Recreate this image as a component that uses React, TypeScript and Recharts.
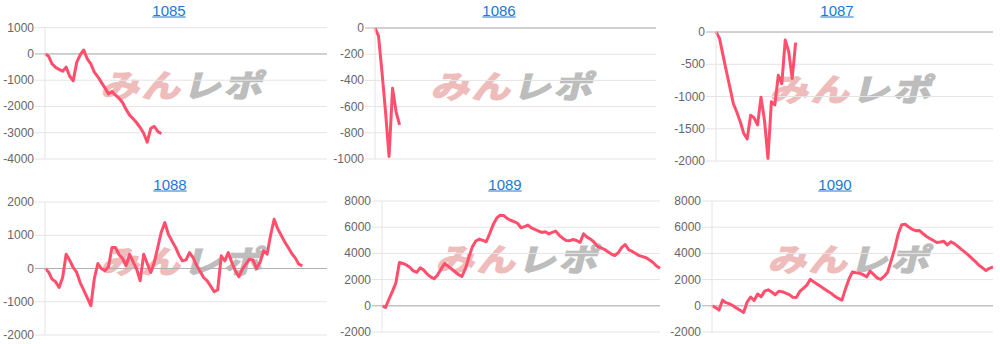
import { LineChart, Line, XAxis, YAxis, CartesianGrid, ReferenceLine } from "recharts";

// x positions are sample indexes; every panel shares the same 0..80 range
const STEPS = 80;

const titles = ["1085", "1086", "1087", "1088", "1089", "1090"];

const diff1085 = [0, -80, -380, -510, -590, -660, -500, -850, -1020, -320, -30, 150, -190, -380, -690, -870, -1080, -1290, -1520, -1430, -1570, -1685, -1850, -2110, -2330, -2470, -2620, -2800, -3020, -3360, -2830, -2760, -2950, -3040];
const diff1086 = [0, -60, -340, -640, -980, -460, -640, -740];
const diff1087 = [0, -95, -355, -608, -855, -1108, -1240, -1390, -1570, -1660, -1290, -1330, -1440, -1010, -1370, -1960, -1080, -1130, -670, -800, -125, -305, -720, -165];
const diff1088 = [0, -100, -320, -400, -570, -270, 430, 250, 30, -120, -430, -650, -880, -1120, -300, 150, 0, -70, 50, 630, 630, 420, 300, 80, 430, 200, -20, -370, 430, 150, -120, 180, 640, 1100, 1380, 1030, 830, 650, 400, 230, 260, 480, 330, 100, -80, -270, -370, -530, -700, -640, 380, 230, 480, 180, -70, -250, -20, 130, 280, 260, 0, 180, 530, 430, 1000, 1480, 1200, 1000, 800, 630, 450, 320, 130, 80];
const diff1089 = [0, -130, 500, 1100, 1750, 3310, 3230, 3120, 2950, 2660, 2560, 2900, 2730, 2420, 2210, 2060, 2360, 2800, 3230, 3030, 2820, 2600, 2380, 2250, 2830, 3700, 4500, 4950, 5090, 4990, 4890, 5520, 6200, 6690, 6920, 6900, 6670, 6530, 6430, 6300, 5960, 6040, 6160, 5940, 5830, 5710, 5600, 5650, 5490, 5600, 5700, 5380, 5160, 4980, 4970, 5060, 4990, 4830, 5500, 5240, 5090, 4870, 4540, 4430, 4310, 4120, 3950, 3840, 4050, 4460, 4680, 4280, 4150, 3990, 3830, 3750, 3670, 3500, 3310, 3040, 2870];
const diff1090 = [0, -130, -330, 430, 240, 150, 5, -180, -340, -510, 290, 670, 400, 900, 690, 1120, 1220, 1050, 840, 1110, 1080, 970, 850, 650, 640, 1100, 1330, 1580, 2020, 1820, 1650, 1470, 1290, 1110, 940, 720, 560, 430, 1290, 2050, 2590, 2520, 2480, 2380, 2210, 2650, 2400, 2130, 2010, 2240, 2560, 3440, 4340, 5480, 6190, 6220, 6020, 5840, 5730, 5750, 5520, 5310, 5140, 4990, 4830, 4870, 4920, 4650, 4880, 4750, 4540, 4310, 4100, 3870, 3620, 3380, 3090, 2900, 2690, 2860, 2970];

const ticks1085 = [-4000, -3000, -2000, -1000, 0, 1000];
const ticks1086 = [-1000, -800, -600, -400, -200, 0];
const ticks1087 = [-2000, -1500, -1000, -500, 0];
const ticks1088 = [-2000, -1000, 0, 1000, 2000];
const ticks1089 = [-2000, 0, 2000, 4000, 6000, 8000];
const ticks1090 = [-2000, 0, 2000, 4000, 6000, 8000];

const series = [diff1085, diff1086, diff1087, diff1088, diff1089, diff1090];
const tickSets = [ticks1085, ticks1086, ticks1087, ticks1088, ticks1089, ticks1090];

// page layout of each small chart (absolute page pixels)
const layout = [
  { left: 0, top: 0, width: 333, pl: 45, pr: 327, pt: 27.7, pb: 159, tx: 169, ty: 10 },
  { left: 333, top: 0, width: 333, pl: 375, pr: 656, pt: 28, pb: 159, tx: 499, ty: 10 },
  { left: 666, top: 0, width: 334, pl: 716, pr: 993, pt: 32, pb: 161, tx: 837, ty: 10 },
  { left: 0, top: 172, width: 333, pl: 45, pr: 327, pt: 202, pb: 335, tx: 170, ty: 184 },
  { left: 333, top: 172, width: 333, pl: 382, pr: 660, pt: 201, pb: 332, tx: 505, ty: 184 },
  { left: 666, top: 172, width: 334, pl: 712, pr: 993, pt: 201, pb: 332, tx: 835, ty: 184 },
];

const PANEL_H = 172;
const LINE = "#ff4f6d";
const GRID = "#e4e4e4";
const ZERO = "#b0b0b0";
const FONT = "'Liberation Sans', Arial, Helvetica, sans-serif";

const AxisTick = (props: any) => {
  const { x, y, payload } = props;
  return (
    <g>
      <line x1={x + 1} x2={x + 11} y1={y} y2={y} stroke={payload.value === 0 ? ZERO : GRID} />
      <text x={x} y={y} dy={4} textAnchor="end" fill="#666" fontSize={12} fontFamily={FONT}>
        {payload.value}
      </text>
    </g>
  );
};

const Watermark = ({ x, y }: { x: number; y: number }) => (
  <div
    style={{
      position: "absolute",
      left: x,
      top: y,
      transform: "translate(-50%, -50%) skewX(-14deg) scaleY(0.82)",
      fontFamily: "'Noto Sans CJK JP', sans-serif",
      fontWeight: 700,
      fontSize: 38,
      letterSpacing: 3,
      whiteSpace: "nowrap",
      lineHeight: 1,
    }}
  >
    <span style={{ color: "#efbcbc", WebkitTextStroke: "2px #efbcbc" }}>みん</span>
    <span style={{ color: "#bdbdbd", WebkitTextStroke: "2px #bdbdbd" }}>レポ</span>
  </div>
);

const SmallChart = ({ i }: { i: number }) => {
  const p = layout[i];
  const data = series[i].map((v, k) => ({ x: k, y: v }));
  const ticks = tickSets[i];
  const margin = {
    top: p.pt - p.top,
    right: p.left + p.width - p.pr,
    bottom: p.top + PANEL_H - p.pb,
    left: 0,
  };
  return (
    <div style={{ position: "absolute", left: p.left, top: p.top, width: p.width, height: PANEL_H }}>
      <Watermark x={(p.pl + p.pr) / 2 - p.left} y={(p.pt + p.pb) / 2 - 9 - p.top} />
      <div
        style={{
          position: "absolute",
          left: p.tx - p.left,
          top: p.ty - p.top,
          transform: "translate(-50%, -50%)",
          fontFamily: FONT,
          fontSize: 15,
          color: "#2277d6",
          textDecoration: "underline",
          lineHeight: 1,
        }}
      >
        {titles[i]}
      </div>
      <LineChart width={p.width} height={PANEL_H} data={data} margin={margin}>
        <CartesianGrid vertical={false} stroke={GRID} />
        <XAxis type="number" dataKey="x" domain={[0, STEPS]} hide />
        <YAxis
          type="number"
          width={p.pl - p.left}
          domain={[ticks[0], ticks[ticks.length - 1]]}
          ticks={ticks}
          interval={0}
          tickLine={false}
          tickSize={0}
          tickMargin={11}
          axisLine={{ stroke: GRID }}
          tick={<AxisTick />}
        />
        <ReferenceLine y={0} stroke={ZERO} />
        <Line
          type="linear"
          dataKey="y"
          stroke={LINE}
          strokeWidth={3}
          strokeLinejoin="round"
          dot={false}
          isAnimationActive={false}
        />
      </LineChart>
    </div>
  );
};

export default function App() {
  return (
    <div style={{ position: "relative", width: 1000, height: 344, background: "#fff" }}>
      <style>{"body{margin:0}"}</style>
      {titles.map((t, i) => (
        <SmallChart key={t} i={i} />
      ))}
    </div>
  );
}
